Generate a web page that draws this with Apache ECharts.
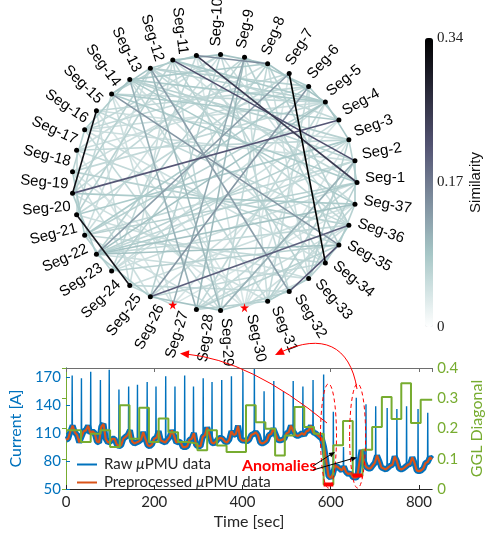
<!DOCTYPE html>
<html>
<head>
<meta charset="utf-8">
<script src="https://cdn.jsdelivr.net/npm/echarts@6/dist/echarts.min.js"></script>
<style>
html, body { margin: 0; padding: 0; background: #fff; }
#main { width: 493px; height: 537px; }
</style>
</head>
<body>
<div id="main"></div>
<script>
// circular similarity graph
const segCount = 37;
const anomalySegs = [27, 30];
const simMax = 0.34;
// [from, to, similarity]
const edgeList = [
    [7, 34, 0.34], [16, 20, 0.32], [21, 25, 0.31], [11, 1, 0.25], [12, 2, 0.22],
    [4, 20, 0.21], [35, 32, 0.21], [36, 26, 0.20], [11, 8, 0.15], [15, 35, 0.14],
    [26, 6, 0.14], [23, 7, 0.13], [32, 13, 0.13], [9, 27, 0.12], [14, 28, 0.11],
    [29, 2, 0.11], [29, 13, 0.10], [28, 9, 0.10],
    [23, 1, 0.08], [23, 3, 0.07], [23, 5, 0.09], [23, 36, 0.06], [23, 37, 0.09],
    [23, 35, 0.09], [23, 33, 0.05], [23, 2, 0.06], [23, 9, 0.07],
    [5, 14, 0.08], [5, 15, 0.06], [5, 13, 0.07], [5, 17, 0.05], [5, 19, 0.06],
    [5, 22, 0.07], [5, 24, 0.05], [5, 28, 0.06], [5, 30, 0.04], [5, 12, 0.08],
    [3, 14, 0.07], [3, 16, 0.05], [3, 18, 0.06], [3, 21, 0.08], [3, 26, 0.05],
    [3, 30, 0.04], [3, 33, 0.07],
    [1, 13, 0.06], [1, 15, 0.08], [1, 22, 0.07], [1, 24, 0.05], [1, 28, 0.06],
    [2, 14, 0.07], [2, 17, 0.05], [2, 22, 0.06], [2, 31, 0.07],
    [4, 12, 0.06], [4, 15, 0.08], [4, 24, 0.05], [4, 27, 0.04],
    [6, 13, 0.07], [6, 16, 0.06], [6, 18, 0.05], [6, 22, 0.08], [6, 31, 0.06], [6, 33, 0.05],
    [8, 14, 0.08], [8, 19, 0.05], [8, 24, 0.07], [8, 29, 0.06], [8, 33, 0.05], [8, 36, 0.07],
    [9, 20, 0.06], [9, 31, 0.05], [9, 35, 0.07],
    [10, 17, 0.06], [10, 22, 0.05], [10, 26, 0.07], [10, 32, 0.06], [10, 36, 0.05],
    [11, 24, 0.06], [11, 30, 0.04], [11, 34, 0.06],
    [12, 21, 0.07], [12, 25, 0.05], [12, 29, 0.06], [12, 33, 0.07], [12, 37, 0.05],
    [13, 36, 0.06], [13, 22, 0.05], [13, 20, 0.07],
    [14, 31, 0.06], [14, 37, 0.08], [14, 34, 0.05],
    [15, 30, 0.04], [15, 27, 0.05], [15, 21, 0.06],
    [16, 25, 0.05], [16, 30, 0.04], [16, 36, 0.06],
    [17, 29, 0.06], [17, 34, 0.05], [17, 7, 0.06],
    [18, 27, 0.04], [18, 35, 0.06], [18, 10, 0.05],
    [19, 30, 0.04], [19, 36, 0.07], [19, 26, 0.05],
    [20, 37, 0.08], [20, 31, 0.05],
    [21, 7, 0.06], [21, 33, 0.05],
    [22, 34, 0.06], [22, 29, 0.05],
    [24, 35, 0.07], [25, 32, 0.06], [25, 37, 0.05],
    [26, 34, 0.06], [27, 37, 0.04], [28, 35, 0.07], [28, 36, 0.05],
    [30, 7, 0.04], [30, 36, 0.05], [31, 37, 0.06], [33, 1, 0.07],
    [5, 8, 0.09], [6, 9, 0.08], [8, 10, 0.09], [4, 6, 0.08], [3, 5, 0.09], [1, 3, 0.07],
    [37, 2, 0.08], [35, 37, 0.07], [34, 36, 0.08], [33, 35, 0.07], [31, 33, 0.08],
    [28, 31, 0.07], [26, 29, 0.09], [25, 27, 0.06], [23, 26, 0.08], [22, 24, 0.07],
    [19, 22, 0.08], [17, 19, 0.07], [14, 17, 0.08], [13, 15, 0.09], [11, 13, 0.08],
    [10, 12, 0.09], [12, 15, 0.07], [18, 21, 0.06], [20, 23, 0.08], [29, 32, 0.07],
    [30, 33, 0.05]
];

// time series
const timeMax = 830;
const sampleStep = 5;
const segStart = 12;   // first segment boundary [sec]
const segLen = 22;     // segment length [sec]
// preprocessed current [A], one reading every 5 s
const currentLevel = [
    103, 104, 112, 118, 111, 108, 100, 106, 112, 113, 118, 110, 112, 110, 101, 100, 117, 120, 104, 100,
    101, 104, 104, 98, 96, 97, 104, 106, 108, 113, 101, 99, 100, 101, 103, 111, 104, 97, 96, 98,
    104, 105, 112, 102, 101, 100, 103, 106, 113, 107, 100, 101, 100, 95, 95, 96, 103, 104, 110, 97,
    96, 96, 106, 108, 116, 109, 100, 99, 101, 104, 105, 104, 101, 100, 103, 112, 108, 109, 118, 104,
    102, 102, 101, 103, 108, 109, 111, 108, 100, 99, 100, 102, 108, 109, 115, 109, 103, 102, 103, 104,
    110, 111, 118, 112, 108, 107, 108, 110, 108, 112, 113, 118, 111, 110, 108, 106, 104, 95, 80, 64,
    62, 66, 75, 74, 72, 70, 74, 68, 66, 67, 63, 62, 63, 78, 92, 80, 74, 72, 72, 75,
    78, 86, 80, 73, 72, 71, 73, 75, 76, 85, 80, 72, 71, 72, 74, 76, 77, 84, 78, 70,
    69, 70, 72, 78, 79, 84, 82
];
const spikeTimes = [14, 35, 56, 78, 98, 120, 142, 162, 184, 204, 226, 247, 269, 289, 311, 331, 353, 375,
    401, 427, 449, 471, 493, 515, 537, 560, 584, 606, 629, 658, 680, 702, 728, 750, 772, 798, 820];
const spikePeaks = [172, 169, 176, 167, 178, 157, 160, 162, 165, 160, 171, 160, 172, 160, 169, 165, 167, 171,
    176, 179, 155, 166, 155, 166, 160, 167, 173, 133, 95, 148, 141, 139, 137, 136, 139, 136, 132];
// GGL diagonal per segment
const gglDiag = [0.194, 0.155, 0.183, 0.194, 0.139, 0.277, 0.166, 0.269, 0.155, 0.233, 0.188, 0.155, 0.15,
    0.128, 0.194, 0.144, 0.122, 0.122, 0.277, 0.221, 0.199, 0.111, 0.177, 0.271, 0.205, 0.183, 0.015,
    0.145, 0.225, 0.045, 0.13, 0.205, 0.304, 0.231, 0.35, 0.218, 0.295];
const currentTicks = [50, 80, 110, 140, 170];

const BLUE = '#0072BD', ORANGE = '#D95319', GREEN = '#77AC30', RED = '#FF0000', INK = '#262626';
const plotFont = 'Lato';
const starPath = 'path://M50,0 L61,35 L98,35 L68,57 L79,91 L50,70 L21,91 L32,57 L2,35 L39,35 Z';

// flipped "bone" colormap
function bone(s) {
    const c = x => Math.max(0, Math.min(1, x));
    const hr = c(s / 0.375), hg = c((s - 0.375) / 0.375), hb = c((s - 0.75) / 0.25);
    return [(7 * s + hb) / 8, (7 * s + hg) / 8, (7 * s + hr) / 8];
}
function simColor(v) {
    const rgb = bone(1 - Math.min(v, simMax) / simMax).map(x => Math.round(x * 255));
    return 'rgb(' + rgb.join(',') + ')';
}

let nodes = [];
for (let k = 1; k <= segCount; k++) {
    let a = 2 * Math.PI * (k - 1) / segCount;
    let deg = a * 180 / Math.PI;
    let right = deg <= 90 || deg > 270;
    let anom = anomalySegs.indexOf(k) >= 0;
    let sz = anom ? 9 : 5;
    // labels sit slightly counter-clockwise of their dot, as in the source figure
    let d = right ? 8 : 3, s = right ? 5 : 13;
    nodes.push({
        name: 'Seg-' + k,
        value: [Math.cos(a), Math.sin(a)],
        symbol: anom ? starPath : 'circle',
        symbolSize: sz,
        itemStyle: {color: anom ? RED : '#000'},
        label: {
            show: true,
            rotate: right ? (deg > 270 ? deg - 360 : deg) : deg - 180,
            align: right ? 'left' : 'right',
            verticalAlign: 'middle',
            position: [sz / 2 + d * Math.cos(a) - s * Math.sin(a), sz / 2 - d * Math.sin(a) - s * Math.cos(a)]
        }
    });
}
let links = edgeList.slice().sort((p, q) => p[2] - q[2]).map(e => ({
    source: 'Seg-' + e[0],
    target: 'Seg-' + e[1],
    lineStyle: {color: simColor(e[2]), width: 1.6, opacity: 1}
}));

let colorStops = [];
for (let i = 0; i <= 20; i++) colorStops.push(simColor(simMax * i / 20));

let prepData = currentLevel.map((v, i) => [i * sampleStep, v]);
let spikeData = [];
spikeTimes.forEach((t, i) => {
    let base = currentLevel[Math.round(t / sampleStep)];
    spikeData.push([t - 0.5, base], [t, spikePeaks[i]], [t + 0.5, base], [t + 0.6, null]);
});
let gglData = [[0, gglDiag[0]]];
gglDiag.forEach((v, i) => gglData.push([segStart + i * segLen, v]));
gglData.push([timeMax, gglDiag[gglDiag.length - 1]]);
let anomData = [];
anomalySegs.forEach(k => {
    let t0 = segStart + (k - 1) * segLen;
    anomData.push([t0, gglDiag[k - 1]], [t0 + segLen, gglDiag[k - 1]], [t0 + segLen, null]);
});

let chart = echarts.init(document.getElementById('main'), null, {renderer: 'canvas'});
let option = {
    animation: false,
    backgroundColor: '#fff',
    grid: [
        {left: 72, top: 54.5, width: 285, height: 256},
        {left: 425, top: 38, width: 8, height: 289},
        {left: 63, right: 53, top: 368, bottom: 48}
    ],
    xAxis: [
        {gridIndex: 0, type: 'value', min: -1, max: 1, show: false},
        {gridIndex: 1, type: 'value', min: 0, max: 1, show: false},
        {
            gridIndex: 2, type: 'value', min: 0, max: timeMax, interval: 200,
            name: 'Time [sec]', nameLocation: 'middle', nameGap: 25,
            nameTextStyle: {fontFamily: plotFont, fontSize: 16, color: INK},
            axisLine: {lineStyle: {color: INK}},
            axisTick: {inside: true, length: 4, lineStyle: {color: INK}},
            axisLabel: {fontFamily: plotFont, fontSize: 15, color: INK, margin: 6, showMaxLabel: false},
            splitLine: {show: false}
        },
        {
            gridIndex: 2, type: 'value', position: 'top', min: 0, max: timeMax, interval: 200,
            axisLine: {lineStyle: {color: '#6e6e6e'}},
            axisTick: {inside: true, length: 4, lineStyle: {color: '#6e6e6e'}},
            axisLabel: {show: false}, splitLine: {show: false}
        }
    ],
    yAxis: [
        {gridIndex: 0, type: 'value', min: -1, max: 1, show: false},
        {
            gridIndex: 1, type: 'value', position: 'right', min: 0, max: simMax, interval: 0.17,
            name: 'Similarity', nameLocation: 'middle', nameRotate: 90, nameGap: 35,
            nameTextStyle: {fontFamily: 'Liberation Sans', fontSize: 15, color: '#111'},
            axisLine: {show: false}, axisTick: {show: false}, splitLine: {show: false},
            axisLabel: {
                fontFamily: 'Liberation Serif', fontSize: 15, color: '#222', margin: 4,
                formatter: v => v === 0 ? '0' : v.toFixed(2)
            }
        },
        {
            gridIndex: 2, type: 'value', min: 50, max: 180,
            name: 'Current [A]', nameLocation: 'middle', nameGap: 24,
            nameTextStyle: {fontFamily: plotFont, fontSize: 16, color: BLUE},
            axisLine: {show: true, lineStyle: {color: BLUE}},
            axisTick: {show: true, inside: true, length: 4, customValues: currentTicks},
            axisLabel: {fontFamily: plotFont, fontSize: 15, color: BLUE, margin: 5, customValues: currentTicks},
            splitLine: {show: false}
        },
        {
            gridIndex: 2, type: 'value', position: 'right', min: 0, max: 0.4, interval: 0.1,
            name: 'GGL Diagonal', nameLocation: 'middle', nameGap: 22,
            nameTextStyle: {fontFamily: plotFont, fontSize: 16, color: GREEN},
            axisLine: {show: true, lineStyle: {color: GREEN}},
            axisTick: {show: true, inside: true, length: 4},
            axisLabel: {fontFamily: plotFont, fontSize: 15, color: GREEN, margin: 5},
            splitLine: {show: false}
        }
    ],
    visualMap: {
        type: 'continuous', min: 0, max: simMax, seriesIndex: 1,
        left: 425, top: 38, itemWidth: 8, itemHeight: 289, padding: 0,
        calculable: false, text: null, showLabel: false,
        inRange: {color: colorStops}
    },
    legend: {
        data: ['raw', 'pre'], left: 72, top: 452, orient: 'vertical', itemGap: 3,
        icon: 'rect', itemWidth: 20, itemHeight: 2,
        formatter: n => n === 'raw' ? 'Raw {i|\u03bc}PMU data' : 'Preprocessed {i|\u03bc}PMU data',
        textStyle: {
            fontFamily: plotFont, fontSize: 15, color: INK, padding: [0, 0, 0, 2],
            rich: {i: {fontStyle: 'italic', fontFamily: plotFont, fontSize: 15, color: INK}}
        }
    },
    series: [
        {
            type: 'graph', layout: 'none', coordinateSystem: 'cartesian2d',
            xAxisIndex: 0, yAxisIndex: 0, roam: false, silent: true,
            data: nodes, links: links,
            label: {fontFamily: 'Liberation Sans', fontSize: 15, color: '#000'},
            emphasis: {disabled: true}
        },
        {type: 'scatter', xAxisIndex: 1, yAxisIndex: 1, data: [], silent: true},
        {
            name: 'raw', type: 'line', xAxisIndex: 2, yAxisIndex: 2, data: spikeData,
            symbol: 'none', connectNulls: false, lineStyle: {color: BLUE, width: 1.4}, itemStyle: {color: BLUE}
        },
        {
            name: 'raw', type: 'line', xAxisIndex: 2, yAxisIndex: 2, data: prepData,
            symbol: 'none', lineStyle: {color: BLUE, width: 6}, itemStyle: {color: BLUE}
        },
        {
            name: 'pre', type: 'line', xAxisIndex: 2, yAxisIndex: 2, data: prepData,
            symbol: 'none', lineStyle: {color: ORANGE, width: 2.2}, itemStyle: {color: ORANGE}
        },
        {
            name: 'ggl', type: 'line', xAxisIndex: 2, yAxisIndex: 3, data: gglData, step: 'end',
            symbol: 'none', lineStyle: {color: GREEN, width: 2}, itemStyle: {color: GREEN}
        },
        {
            name: 'anom', type: 'line', xAxisIndex: 2, yAxisIndex: 3, data: anomData,
            symbol: 'none', connectNulls: false, lineStyle: {color: RED, width: 4}, itemStyle: {color: RED}
        }
    ]
};
chart.setOption(option);

// annotations
function px(t, v) {
    return chart.convertToPixel({xAxisIndex: 2, yAxisIndex: 2}, [t, v]);
}
function arrowHead(tip, from, len, half, color) {
    let dx = tip[0] - from[0], dy = tip[1] - from[1];
    let d = Math.sqrt(dx * dx + dy * dy);
    let ux = dx / d, uy = dy / d;
    let bx = tip[0] - ux * len, by = tip[1] - uy * len;
    return {
        type: 'polygon', z: 100,
        shape: {points: [tip, [bx - uy * half, by + ux * half], [bx + uy * half, by - ux * half]]},
        style: {fill: color}
    };
}
let g = [];
anomalySegs.forEach(k => {
    let tc = segStart + (k - 0.5) * segLen;
    let top = px(tc, 163);
    let bot = px(tc, 51);
    g.push({
        type: 'ellipse', z: 100,
        shape: {cx: top[0], cy: (top[1] + bot[1]) / 2, rx: 8, ry: (bot[1] - top[1]) / 2},
        style: {fill: 'none', stroke: RED, lineWidth: 1, lineDash: [4, 3]}
    });
});
// curved arrows to the anomalous segments in the graph
g.push({
    type: 'bezierCurve', z: 100,
    shape: {x1: 327, y1: 423, x2: 186, y2: 354, cpx1: 250, cpy1: 360},
    style: {stroke: RED, lineWidth: 1, fill: 'none'}
});
g.push(arrowHead([180, 353.5], [250, 360], 9, 4, RED));
g.push({
    type: 'bezierCurve', z: 100,
    shape: {x1: 357, y1: 389, x2: 281, y2: 352, cpx1: 350, cpy1: 345, cpx2: 322, cpy2: 333},
    style: {stroke: RED, lineWidth: 1, fill: 'none'}
});
g.push(arrowHead([275, 355], [322, 333], 9, 4, RED));
g.push({
    type: 'text', x: 242, y: 458, z: 100,
    style: {text: 'Anomalies', fill: RED, font: 'bold 16px Lato'}
});
g.push({type: 'line', z: 100, shape: {x1: 313, y1: 466, x2: 330, y2: 455}, style: {stroke: '#000', lineWidth: 1}});
g.push(arrowHead([335, 452], [313, 466], 6, 2.5, '#000'));
g.push({type: 'line', z: 100, shape: {x1: 313, y1: 470, x2: 351, y2: 459}, style: {stroke: '#000', lineWidth: 1}});
g.push(arrowHead([357, 457.5], [313, 470], 6, 2.5, '#000'));
chart.setOption({graphic: g});
</script>
</body>
</html>
